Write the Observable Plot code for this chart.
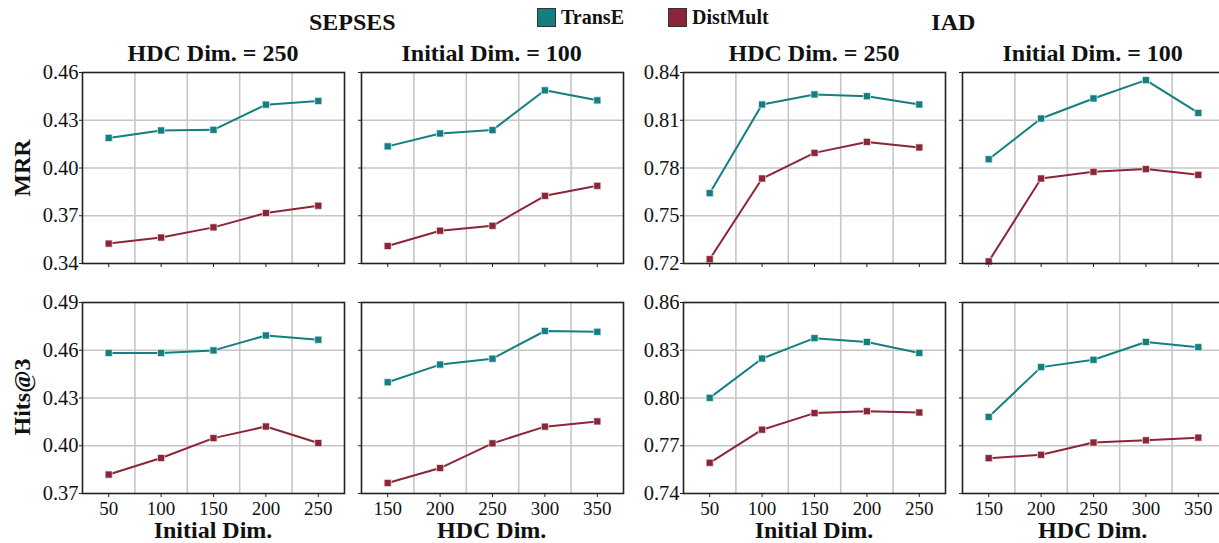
<!DOCTYPE html>
<html>
<head>
<meta charset="utf-8">
<script src="https://cdn.jsdelivr.net/npm/d3@7"></script>
<script src="https://cdn.jsdelivr.net/npm/@observablehq/plot@0.6"></script>
<style>
  html, body { margin: 0; padding: 0; background: #fff; overflow: hidden; }
  #fig { position: relative; width: 1219px; height: 543px; overflow: hidden; background: #fff; }
  .t { position: absolute; font-family: "Liberation Serif", "DejaVu Serif", serif; font-weight: bold; color: #111; white-space: nowrap; line-height: 1; }
  .panel { position: absolute; }
  .panel svg { max-width: none !important; display: block; }
  .sw { position: absolute; box-sizing: border-box; border: 1.2px solid #333; }
</style>
</head>
<body>
<div id="fig"></div>
<script>
// ---------- data ----------
const seriesNames = ["TransE", "DistMult"];
const seriesColors = ["#137f80", "#8b2537"];

const initDims = [50, 100, 150, 200, 250];
const hdcDims = [150, 200, 250, 300, 350];

const sepsesMrrTicks = [0.34, 0.37, 0.40, 0.43, 0.46];
const sepsesHitsTicks = [0.37, 0.40, 0.43, 0.46, 0.49];
const iadMrrTicks = [0.72, 0.75, 0.78, 0.81, 0.84];
const iadHitsTicks = [0.74, 0.77, 0.80, 0.83, 0.86];

// SEPSES, MRR
const sepsesMrrInitTransE = [0.4189, 0.4236, 0.4240, 0.4398, 0.4421];
const sepsesMrrInitDistMult = [0.3525, 0.3563, 0.3627, 0.3717, 0.3763];
const sepsesMrrHdcTransE = [0.4136, 0.4217, 0.4238, 0.4488, 0.4425];
const sepsesMrrHdcDistMult = [0.3510, 0.3606, 0.3637, 0.3825, 0.3888];
// SEPSES, Hits@3
const sepsesHitsInitTransE = [0.4583, 0.4583, 0.4599, 0.4693, 0.4666];
const sepsesHitsInitDistMult = [0.3819, 0.3923, 0.4048, 0.4121, 0.4017];
const sepsesHitsHdcTransE = [0.4399, 0.4510, 0.4547, 0.4721, 0.4716];
const sepsesHitsHdcDistMult = [0.3766, 0.3860, 0.4015, 0.4120, 0.4153];
// IAD, MRR
const iadMrrInitTransE = [0.7642, 0.8199, 0.8262, 0.8251, 0.8199];
const iadMrrInitDistMult = [0.7227, 0.7734, 0.7895, 0.7964, 0.7929];
const iadMrrHdcTransE = [0.7855, 0.8111, 0.8237, 0.8352, 0.8146];
const iadMrrHdcDistMult = [0.7213, 0.7734, 0.7776, 0.7793, 0.7757];
// IAD, Hits@3
const iadHitsInitTransE = [0.8001, 0.8248, 0.8376, 0.8352, 0.8283];
const iadHitsInitDistMult = [0.7593, 0.7801, 0.7905, 0.7917, 0.7909];
const iadHitsHdcTransE = [0.7881, 0.8194, 0.8240, 0.8352, 0.8319];
const iadHitsHdcDistMult = [0.7622, 0.7643, 0.7720, 0.7734, 0.7751];

const datasets = ["SEPSES", "IAD"];
const metrics = ["MRR", "Hits@3"];
const panelTitles = ["HDC Dim. = 250", "Initial Dim. = 100"];
const xTitles = ["Initial Dim.", "HDC Dim."];

// ---------- layout ----------
const colX = [82, 360.7, 683, 961.7];
const rowY = [72.3, 301.7];
const PW = 262, PH = 191;
const ML = 60, MR = 10, MT = 10, MB = 40;

const fig = document.getElementById("fig");

function addText(txt, left, top, size, extra) {
  const d = document.createElement("div");
  d.className = "t";
  d.textContent = txt;
  d.style.fontSize = size + "px";
  d.style.left = left + "px";
  d.style.top = top + "px";
  if (extra) Object.assign(d.style, extra);
  fig.appendChild(d);
  return d;
}

function panel({xs, t1, t2, yTicks, col, row, showY, showX}) {
  const step = xs[1] - xs[0];
  const xDomain = [xs[0] - step / 2, xs[xs.length - 1] + step / 2];
  const xGrid = d3.pairs(xs, (a, b) => (a + b) / 2);
  const rows = [];
  xs.forEach((x, i) => rows.push({x, y: t1[i], series: seriesNames[0]}));
  xs.forEach((x, i) => rows.push({x, y: t2[i], series: seriesNames[1]}));
  const W = ML + PW + MR, H = MT + PH + MB;
  const svg = Plot.plot({
    width: W,
    height: H,
    marginLeft: ML, marginRight: MR, marginTop: MT, marginBottom: MB,
    style: {fontFamily: "'Liberation Serif', serif", fontSize: "19px", color: "#111", background: "transparent", overflow: "visible"},
    x: {domain: xDomain},
    y: {domain: [yTicks[0], yTicks[yTicks.length - 1]]},
    color: {domain: seriesNames, range: seriesColors},
    marks: [
      Plot.ruleX(xGrid, {stroke: "#c6c6c6", strokeWidth: 1.6}),
      Plot.ruleY(yTicks.slice(1, -1), {stroke: "#c6c6c6", strokeWidth: 1.6}),
      Plot.axisX(xs, {label: null, tickSize: 4, tickPadding: 4, stroke: "#222", fontSize: 19, tickFormat: showX ? (d => String(d)) : (() => "")}),
      Plot.axisY(yTicks, {label: null, tickSize: 3, tickPadding: 1, stroke: "#222", fontSize: 20.5, tickFormat: showY ? d3.format(".2f") : (() => "")}),
      Plot.line(rows, {x: "x", y: "y", z: "series", stroke: "series", strokeWidth: 2}),
      Plot.dot(rows, {x: "x", y: "y", fill: "series", stroke: "#eef4f4", strokeWidth: 0.7, symbol: "square", r: 4}),
      Plot.frame({stroke: "#222", strokeWidth: 1.6})
    ]
  });
  const wrap = document.createElement("div");
  wrap.className = "panel";
  wrap.style.left = (colX[col] - ML) + "px";
  wrap.style.top = (rowY[row] - MT) + "px";
  wrap.style.width = W + "px";
  wrap.style.height = H + "px";
  wrap.appendChild(svg);
  fig.appendChild(wrap);
}

const panels = [
  {xs: initDims, t1: sepsesMrrInitTransE, t2: sepsesMrrInitDistMult, yTicks: sepsesMrrTicks, col: 0, row: 0},
  {xs: hdcDims, t1: sepsesMrrHdcTransE, t2: sepsesMrrHdcDistMult, yTicks: sepsesMrrTicks, col: 1, row: 0},
  {xs: initDims, t1: iadMrrInitTransE, t2: iadMrrInitDistMult, yTicks: iadMrrTicks, col: 2, row: 0},
  {xs: hdcDims, t1: iadMrrHdcTransE, t2: iadMrrHdcDistMult, yTicks: iadMrrTicks, col: 3, row: 0},
  {xs: initDims, t1: sepsesHitsInitTransE, t2: sepsesHitsInitDistMult, yTicks: sepsesHitsTicks, col: 0, row: 1},
  {xs: hdcDims, t1: sepsesHitsHdcTransE, t2: sepsesHitsHdcDistMult, yTicks: sepsesHitsTicks, col: 1, row: 1},
  {xs: initDims, t1: iadHitsInitTransE, t2: iadHitsInitDistMult, yTicks: iadHitsTicks, col: 2, row: 1},
  {xs: hdcDims, t1: iadHitsHdcTransE, t2: iadHitsHdcDistMult, yTicks: iadHitsTicks, col: 3, row: 1}
];
panels.forEach(p => panel({...p, showY: p.col % 2 === 0, showX: p.row === 1}));

// ---------- text ----------
addText(datasets[0], (colX[0] + colX[1] + PW) / 2, 10, 24, {transform: "translateX(-50%)"});
addText(datasets[1], (colX[2] + colX[3] + PW) / 2, 10, 24, {transform: "translateX(-50%)"});
colX.forEach((cx, i) => addText(panelTitles[i % 2], cx + PW / 2, 41, 24, {transform: "translateX(-50%)"}));
colX.forEach((cx, i) => addText(xTitles[i % 2], cx + PW / 2, 519, 24, {transform: "translateX(-50%)", lineHeight: "0.95"}));
rowY.forEach((ry, i) => addText(metrics[i], 22, ry + PH / 2, 24, {transform: "translate(-50%, -50%) rotate(-90deg)"}));

// legend
const legendX = [537, 668];
seriesNames.forEach((name, i) => {
  const s = document.createElement("div");
  s.className = "sw";
  s.style.left = legendX[i] + "px";
  s.style.top = "8px";
  s.style.width = "19px";
  s.style.height = "19px";
  s.style.background = seriesColors[i];
  fig.appendChild(s);
  addText(name, legendX[i] + 24, 7, 20);
});
</script>
</body>
</html>
